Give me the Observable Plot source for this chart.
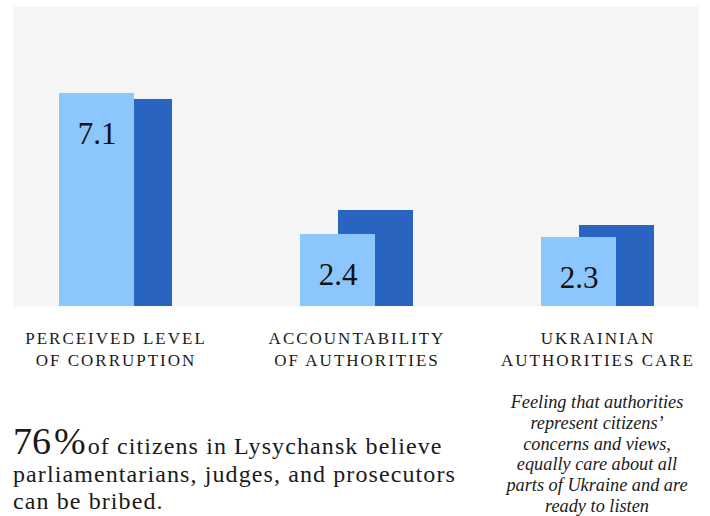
<!DOCTYPE html>
<html>
<head>
<meta charset="utf-8">
<script src="https://cdn.jsdelivr.net/npm/d3@7"></script>
<script src="https://cdn.jsdelivr.net/npm/@observablehq/plot@0.6"></script>
<style>
  html, body { margin: 0; padding: 0; background: #ffffff; }
  #wrap { position: relative; width: 710px; height: 516px; font-family: "Liberation Serif", "Times New Roman", Times, serif; color: #1a1a1a; }
  #chart svg { display: block; }
  #chart text { font-family: "Liberation Serif", "Times New Roman", Times, serif; }
  #chart g[aria-label="x-axis tick label"] { letter-spacing: 2px; }
  .statline { position: absolute; left: 13px; font-size: 24px; line-height: 27px; letter-spacing: 1.1px; white-space: nowrap; }
  .statline .big { font-size: 38px; line-height: 27px; letter-spacing: 0; }
  .statline .unit { font-size: 38px; line-height: 27px; letter-spacing: 0; margin-left: 3px; margin-right: 2px; }
  #note { position: absolute; left: 487px; top: 392px; width: 220px; text-align: center; font-style: italic; font-size: 18.3px; line-height: 20.8px; }
</style>
</head>
<body>
<div id="wrap">
  <div id="chart"></div>
  <div id="stat"></div>
  <div id="note"></div>
</div>
<script>
// ---- data ----
const categories = ["PERCEIVED LEVEL\nOF CORRUPTION", "ACCOUNTABILITY\nOF AUTHORITIES", "UKRAINIAN\nAUTHORITIES CARE"];
const lysychanskValues = [7.1, 2.4, 2.3];
const comparisonValues = [6.9, 3.2, 2.7];
const statNumber = "76";
const statUnit = "%";
const statLines = ["of citizens in Lysychansk believe", "parliamentarians, judges, and prosecutors", "can be bribed."];
const noteLines = ["Feeling that authorities", "represent citizens\u2019", "concerns and views,", "equally care about all", "parts of Ukraine and are", "ready to listen"];

const lightData = categories.map((c, i) => ({category: c, value: lysychanskValues[i]}));
const darkData = categories.map((c, i) => ({category: c, value: comparisonValues[i]}));

const chart = Plot.plot({
  width: 710,
  height: 380,
  marginTop: 6,
  marginBottom: 74,
  marginLeft: 13,
  marginRight: 12,
  style: {fontFamily: "'Liberation Serif', 'Times New Roman', serif", color: "#1a1a1a", background: "transparent"},
  x: {type: "band", domain: categories, range: [78, 635], paddingInner: 0.6888, paddingOuter: 0, align: 0.5},
  y: {domain: [0, 10], axis: null},
  marks: [
    Plot.frame({fill: "#f5f5f5", stroke: null}),
    Plot.barY(darkData, {x: "category", y: "value", fill: "#2a64c1", dx: 19, inset: 0}),
    Plot.barY(lightData, {x: "category", y: "value", fill: "#8bc6fd", dx: -19, inset: 0}),
    Plot.text(lightData, {x: "category", y: "value", text: d => d.value.toFixed(1), dx: -19, dy: 41, fontSize: 31, fill: "#111"}),
    Plot.axisX({tickSize: 0, tickPadding: 22, fontSize: 17, lineHeight: 1.3, label: null, fill: "#1a1a1a"})
  ]
});
document.getElementById("chart").appendChild(chart);

const stat = document.getElementById("stat");
const lineTops = [428, 460.5, 487.5];
stat.innerHTML = statLines.map((s, i) => {
  const prefix = i === 0 ? `<span class="big">${statNumber}</span><span class="unit">${statUnit}</span>` : "";
  return `<div class="statline" style="top:${lineTops[i]}px">${prefix}${s}</div>`;
}).join("");
document.getElementById("note").innerHTML = noteLines.join("<br>");
</script>
</body>
</html>
